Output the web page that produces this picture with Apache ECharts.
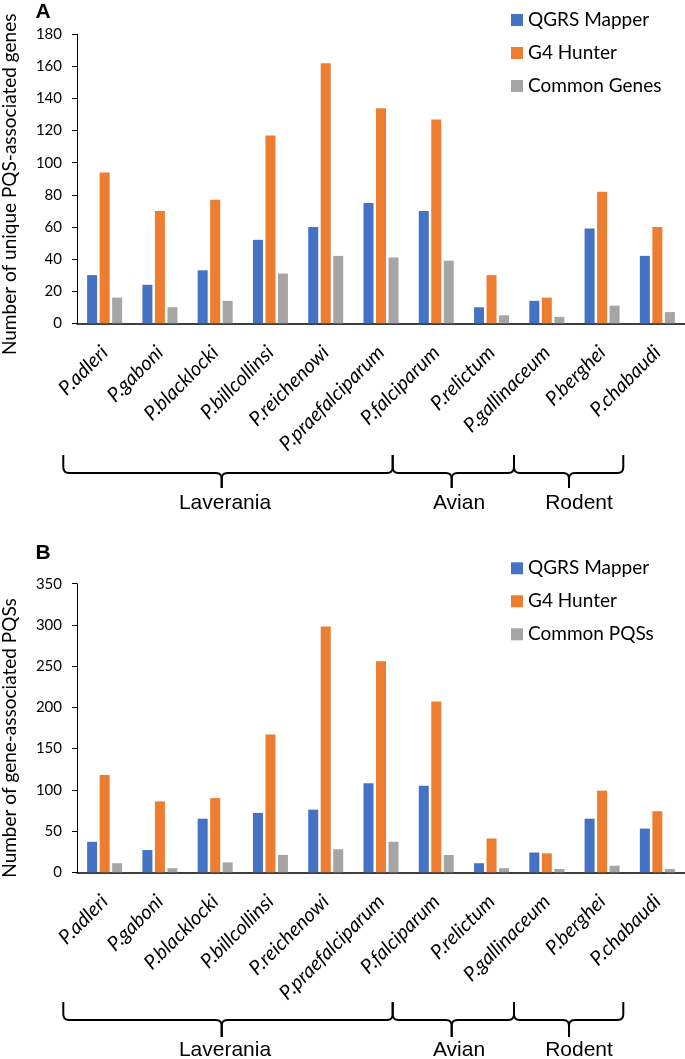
<!DOCTYPE html>
<html>
<head>
<meta charset="utf-8">
<script src="https://cdn.jsdelivr.net/npm/echarts@6/dist/echarts.min.js"></script>
<style>
html,body{margin:0;padding:0;background:#fff;}
#chart{width:685px;height:1059px;}
</style>
</head>
<body>
<div id="chart"></div>
<script>
// ---- data ----
const categories = ['P.adleri','P.gaboni','P.blacklocki','P.billcollinsi','P.reichenowi','P.praefalciparum','P.falciparum','P.relictum','P.gallinaceum','P.berghei','P.chabaudi'];
const genesQGRS   = [30, 24, 33, 52, 60, 75, 70, 10, 14, 59, 42];
const genesG4     = [94, 70, 77, 117, 162, 134, 127, 30, 16, 82, 60];
const genesCommon = [16, 10, 14, 31, 42, 41, 39, 5, 4, 11, 7];
const pqsQGRS     = [37, 27, 65, 72, 76, 108, 105, 11, 24, 65, 53];
const pqsG4       = [118, 86, 90, 167, 298, 256, 207, 41, 23, 99, 74];
const pqsCommon   = [11, 5, 12, 21, 28, 37, 21, 5, 4, 8, 4];
const seriesNamesA = ['QGRS Mapper', 'G4 Hunter', 'Common Genes'];
const seriesNamesB = ['QGRS Mapper', 'G4 Hunter', 'Common PQSs'];
const groups = ['Laverania', 'Avian', 'Rodent'];
const axisNameA = 'Number of unique PQS-associated genes';
const axisNameB = 'Number of gene-associated PQSs';

const colors = ['#4472C4', '#ED7D31', '#A5A5A5'];
const FONT = 'Lato';

const chart = echarts.init(document.getElementById('chart'), null, {renderer: 'canvas'});

function xAxis(gridIndex) {
  return {
    type: 'category', gridIndex, data: categories,
    axisLine: {lineStyle: {color: '#000', width: 1.5}},
    axisTick: {show: false},
    axisLabel: {rotate: 45, interval: 0, margin: 26, color: '#000', fontFamily: FONT, fontStyle: 'italic', fontSize: 20}
  };
}
function yAxis(gridIndex, max, interval, name, pad) {
  return {
    type: 'value', gridIndex, min: 0, max, interval,
    name, nameLocation: 'middle', nameGap: 58, nameRotate: 90,
    nameTextStyle: {color: '#000', fontFamily: FONT, fontSize: 19, padding: pad},
    axisLine: {show: true, lineStyle: {color: '#000', width: 1}},
    axisTick: {show: true, length: 5, lineStyle: {color: '#000'}},
    splitLine: {show: false},
    axisLabel: {margin: 15, color: '#000', fontFamily: FONT, fontSize: 15}
  };
}
function bar(name, data, idx, ci) {
  return {
    type: 'bar', name, data, xAxisIndex: idx, yAxisIndex: idx,
    barWidth: 10, barGap: '25%',
    itemStyle: {color: colors[ci]},
    emphasis: {disabled: true}
  };
}
function legend(names, top) {
  return {
    data: names, orient: 'vertical', left: 506, top, icon: 'rect',
    itemWidth: 12, itemHeight: 12, itemGap: 13,
    textStyle: {fontFamily: FONT, fontSize: 19, lineHeight: 20, color: '#000'}
  };
}

chart.setOption({
  animation: false,
  backgroundColor: '#fff',
  grid: [
    {left: 77, right: 0, top: 34.3, height: 289, containLabel: false, outerBoundsMode: 'none'},
    {left: 77, right: 0, top: 583.7, height: 288.6, containLabel: false, outerBoundsMode: 'none'}
  ],
  legend: [legend(seriesNamesA, 5), legend(seriesNamesB, 553.3)],
  xAxis: [xAxis(0), xAxis(1)],
  yAxis: [yAxis(0, 180, 20, axisNameA, [0, 11, 0, 0]), yAxis(1, 350, 50, axisNameB, [0, 20, 0, 0])],
  series: [
    bar(seriesNamesA[0], genesQGRS, 0, 0),
    bar(seriesNamesA[1], genesG4, 0, 1),
    bar(seriesNamesA[2], genesCommon, 0, 2),
    bar(seriesNamesB[0], pqsQGRS, 1, 0),
    bar(seriesNamesB[1], pqsG4, 1, 1),
    bar(seriesNamesB[2], pqsCommon, 1, 2)
  ]
});

// ---- decorations: panel letters and group braces ----
function quad(p0, c, p1, n) {
  const pts = [];
  for (let i = 0; i <= n; i++) {
    const t = i / n, s = 1 - t;
    pts.push([s * s * p0[0] + 2 * s * t * c[0] + t * t * p1[0], s * s * p0[1] + 2 * s * t * c[1] + t * t * p1[1]]);
  }
  return pts;
}
function braces(y0, y1, y2, ty) {
  const segs = [[63.3, 221.7, 392.7], [392.7, 451.7, 514], [514, 569, 623.3]];
  const textX = [225, 459, 579];
  const r = 6;
  const els = [];
  const style = {stroke: '#000', lineWidth: 2, fill: null};
  segs.forEach(([a, m, b]) => {
    const left = [[a, y0]].concat(quad([a, y1 - r], [a, y1], [a + r, y1], 6), quad([m - r, y1], [m, y1], [m, y1 + r], 6), [[m, y2]]);
    const right = [[m, y2]].concat(quad([m, y1 + r], [m, y1], [m + r, y1], 6), quad([b - r, y1], [b, y1], [b, y1 - r], 6), [[b, y0]]);
    els.push({type: 'polyline', shape: {points: left}, style, silent: true});
    els.push({type: 'polyline', shape: {points: right}, style, silent: true});
  });
  groups.forEach((g, i) => els.push({
    type: 'text', x: textX[i], y: ty, silent: true,
    style: {text: g, fontFamily: 'Liberation Sans', fontSize: 21, fill: '#000', align: 'center', verticalAlign: 'middle'}
  }));
  return els;
}
const letters = [
  {type: 'text', x: 43, y: 12, style: {text: 'A', fontFamily: 'Liberation Sans', fontWeight: 'bold', fontSize: 21, fill: '#000', align: 'center', verticalAlign: 'middle'}},
  {type: 'text', x: 43, y: 553, style: {text: 'B', fontFamily: 'Liberation Sans', fontWeight: 'bold', fontSize: 21, fill: '#000', align: 'center', verticalAlign: 'middle'}}
];
chart.setOption({graphic: letters.concat(braces(455, 473, 488, 503), braces(1002, 1020, 1037, 1050))});
</script>
</body>
</html>
